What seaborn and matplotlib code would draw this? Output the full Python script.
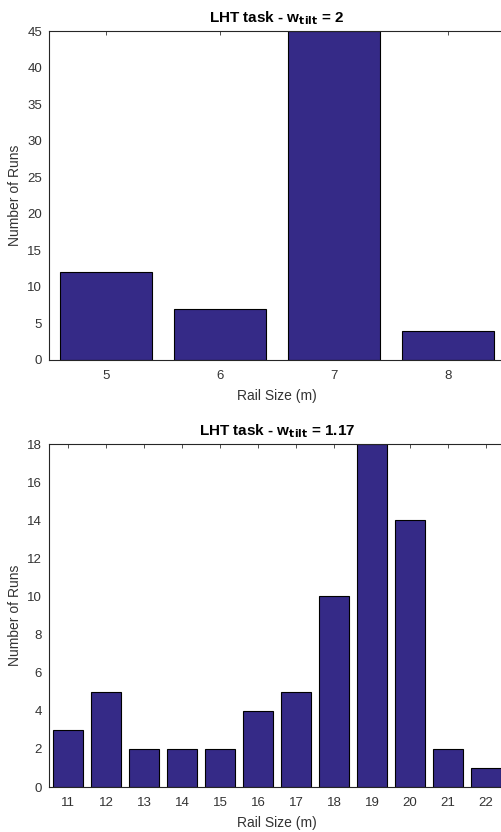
import matplotlib
matplotlib.use("Agg")
import matplotlib.pyplot as plt
import seaborn as sns
import pandas as pd

sns.set_theme(style="white")
plt.rcParams['font.family'] = ['Liberation Sans', 'DejaVu Sans']

sizes_a = [5, 6, 7, 8]
runs_a = [12, 7, 45, 4]
sizes_b = [11, 12, 13, 14, 15, 16, 17, 18, 19, 20, 21, 22]
runs_b = [3, 5, 2, 2, 2, 4, 5, 10, 18, 14, 2, 1]
yticks_a = list(range(0, 46, 5))
yticks_b = list(range(0, 19, 2))

bar_color = "#352A87"
txt_color = "#333333"

fig = plt.figure(figsize=(5.02, 8.32), dpi=100)
ax1 = fig.add_axes([49/502, 1-360/832, 456/502, 329/832])
ax2 = fig.add_axes([49/502, 1-787/832, 456/502, 343/832])

def draw(ax, xs, ys, yticks, title):
    df = pd.DataFrame({"x": [str(v) for v in xs], "y": ys})
    sns.barplot(data=df, x="x", y="y", order=[str(v) for v in xs], color=bar_color,
                saturation=1, edgecolor="black", linewidth=0.8, width=0.8, ax=ax)
    ax.set_xlim(-0.5, len(xs) - 0.5)
    ax.set_ylim(yticks[0], yticks[-1])
    ax.set_yticks(yticks)
    ax.set_xlabel("Rail Size (m)", fontsize=10, color=txt_color, labelpad=5)
    ax.set_ylabel("Number of Runs", fontsize=10, color=txt_color, labelpad=4)
    ax.set_title(title, fontsize=11, fontweight="bold", color="black", pad=6)
    ax.tick_params(axis="both", direction="in", length=3, width=0.6, top=True, right=True,
                   labelsize=9.5, colors=txt_color)
    ax.tick_params(axis="x", pad=7)
    ax.tick_params(axis="y", pad=5)
    for s in ax.spines.values():
        s.set_color("#262626")
        s.set_linewidth(0.8)

draw(ax1, sizes_a, runs_a, yticks_a, r"LHT task - w$_{\mathbf{tilt}}$ = 2")
draw(ax2, sizes_b, runs_b, yticks_b, r"LHT task - w$_{\mathbf{tilt}}$ = 1.17")

fig.savefig("out.png", dpi=100)
